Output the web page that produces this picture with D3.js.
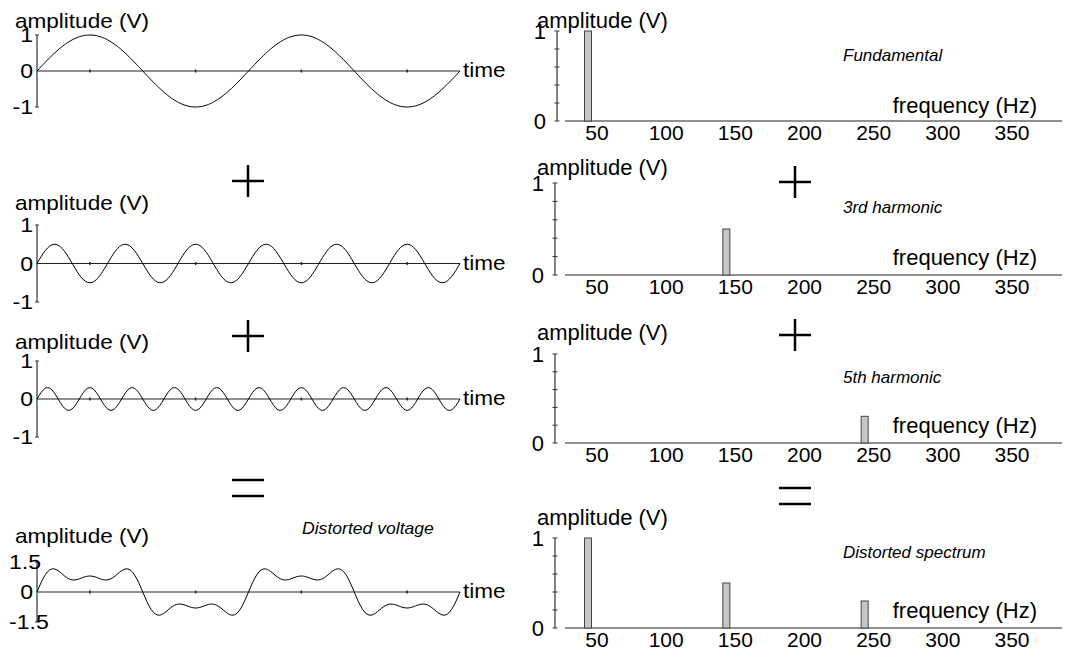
<!DOCTYPE html>
<html>
<head>
<meta charset="utf-8">
<script src="https://cdn.jsdelivr.net/npm/d3@7"></script>
<style>
  body { margin: 0; background: #fff; }
  text { font-family: "Liberation Sans", Arial, sans-serif; fill: #000; }
</style>
</head>
<body>
<div id="chart"></div>
<script>
// harmonic content (Hz, volts)
const frequencies = [50, 150, 250];
const amplitudes = [1, 0.5, 0.3];
const spectrumTitles = ["Fundamental", "3rd harmonic", "5th harmonic", "Distorted spectrum"];
const waveTitles = ["", "", "", "Distorted voltage"];
const freqTicks = [50, 100, 150, 200, 250, 300, 350];
const ampTicks = [0, 0.2, 0.4, 0.6, 0.8, 1];
const timeTicks = [5, 15, 25, 35]; // ms
const waveLimits = [1, 1, 1, 1.5];

(function () {
  const width = 1068;
  const height = 651;

  const svg = d3.select("#chart")
    .append("svg")
    .attr("width", width)
    .attr("height", height);

  // where each row sits on the page
  const wavePanels = [
    { top: 35, bottom: 107, label: 28 },
    { top: 225, bottom: 302, label: 210 },
    { top: 361, bottom: 437, label: 349 },
    { top: 562, bottom: 622, label: 543 }
  ];
  const specPanels = [
    { axisX: 557, top: 31, zero: 121, label: 28, title: 61, freq: 113 },
    { axisX: 555, top: 183, zero: 275, label: 175, title: 213, freq: 265 },
    { axisX: 555, top: 354, zero: 443, label: 340, title: 383, freq: 433 },
    { axisX: 555, top: 538, zero: 628, label: 525, title: 558, freq: 618 }
  ];

  // which harmonics go into each row (last row = all of them)
  const rows = [[0], [1], [2], [0, 1, 2]];

  // left text is a bit wider than plain Arial
  function leftText(g, x, y, str, size, anchor) {
    return g.append("text")
      .attr("transform", "translate(" + x + "," + y + ") scale(1.1,1)")
      .attr("font-size", size + "px")
      .attr("text-anchor", anchor || "start")
      .text(str);
  }

  // ---------- waveforms ----------
  const xTime = d3.scaleLinear().domain([0, 40]).range([37, 460]);
  const samples = d3.range(0, 40.0001, 0.2);

  function voltage(ms, idx) {
    return idx.reduce((s, k) => s + amplitudes[k] * Math.sin(2 * Math.PI * frequencies[k] * ms / 1000), 0);
  }

  wavePanels.forEach((p, i) => {
    const lim = waveLimits[i];
    const y = d3.scaleLinear().domain([-lim, lim]).range([p.bottom, p.top]);
    const g = svg.append("g");

    g.append("line")
      .attr("x1", xTime(0)).attr("x2", xTime(0))
      .attr("y1", y(lim)).attr("y2", y(-lim))
      .attr("stroke", "#333").attr("stroke-width", 1.2);

    [lim, -lim].forEach(v => {
      g.append("line")
        .attr("x1", xTime(0) - 2).attr("x2", xTime(0) + 2)
        .attr("y1", y(v)).attr("y2", y(v))
        .attr("stroke", "#333");
    });

    g.append("line")
      .attr("x1", xTime(0)).attr("x2", xTime(40))
      .attr("y1", y(0)).attr("y2", y(0))
      .attr("stroke", "#222").attr("stroke-width", 1.2);

    g.selectAll(".tt")
      .data(timeTicks)
      .enter().append("line")
      .attr("x1", d => xTime(d)).attr("x2", d => xTime(d))
      .attr("y1", y(0) - 1.5).attr("y2", y(0) + 1.5)
      .attr("stroke", "#222").attr("stroke-width", 1.5);

    const line = d3.line()
      .x(d => xTime(d))
      .y(d => y(voltage(d, rows[i])));

    g.append("path")
      .datum(samples)
      .attr("d", line)
      .attr("fill", "none")
      .attr("stroke", "#000")
      .attr("stroke-width", 1);

    [lim, 0, -lim].forEach(v => {
      const str = String(v);
      if (str.length > 2) {
        leftText(g, 9, y(v) + 7, str, 21, "start");
      } else {
        leftText(g, 33, y(v) + 7, str, 21, "end");
      }
    });

    leftText(g, 15, p.label, "amplitude (V)", 20.5);
    leftText(g, 463, y(0) + 6, "time", 20.5);

    if (waveTitles[i]) {
      g.append("text")
        .attr("transform", "translate(302," + (p.label - 9) + ") scale(1.1,1)")
        .attr("font-size", "16px")
        .attr("font-style", "italic")
        .text(waveTitles[i]);
    }
  });

  // ---------- spectra ----------
  const xFreq = d3.scaleLinear().domain([50, 350]).range([588, 1003]);

  specPanels.forEach((p, i) => {
    const y = d3.scaleLinear().domain([0, 1]).range([p.zero, p.top]);
    const g = svg.append("g");

    g.append("line")
      .attr("x1", p.axisX).attr("x2", p.axisX)
      .attr("y1", y(1)).attr("y2", y(0))
      .attr("stroke", "#333").attr("stroke-width", 1.2);

    g.selectAll(".at")
      .data(ampTicks)
      .enter().append("line")
      .attr("x1", p.axisX - 2.5).attr("x2", p.axisX + 2.5)
      .attr("y1", d => y(d)).attr("y2", d => y(d))
      .attr("stroke", "#333");

    g.append("line")
      .attr("x1", 565).attr("x2", 1062)
      .attr("y1", y(0)).attr("y2", y(0))
      .attr("stroke", "#222").attr("stroke-width", 1.2);

    const bars = rows[i].map(k => ({ f: frequencies[k], a: amplitudes[k] }));
    g.selectAll("rect")
      .data(bars)
      .enter().append("rect")
      .attr("x", d => xFreq(d.f) - 3.5)
      .attr("width", 7)
      .attr("y", d => y(d.a))
      .attr("height", d => y(0) - y(d.a))
      .attr("fill", "#c6c6c6")
      .attr("stroke", "#444")
      .attr("stroke-width", 1);

    g.selectAll(".fl")
      .data(freqTicks)
      .enter().append("text")
      .attr("x", d => xFreq(d) + 9)
      .attr("y", y(0) + 19)
      .attr("text-anchor", "middle")
      .attr("font-size", "21px")
      .text(d => d);

    [1, 0].forEach(v => {
      g.append("text")
        .attr("x", p.axisX - 11)
        .attr("y", y(v) + 8)
        .attr("text-anchor", "end")
        .attr("font-size", "22px")
        .text(v);
    });

    g.append("text")
      .attr("x", 537).attr("y", p.label)
      .attr("font-size", "22px")
      .text("amplitude (V)");

    g.append("text")
      .attr("x", 1037).attr("y", p.freq)
      .attr("text-anchor", "end")
      .attr("font-size", "22px")
      .text("frequency (Hz)");

    g.append("text")
      .attr("x", 843).attr("y", p.title)
      .attr("font-size", "17px")
      .attr("font-style", "italic")
      .text(spectrumTitles[i]);
  });

  // ---------- + + = between the rows ----------
  const operators = [
    { x: 248, y: 181, op: "+" }, { x: 795, y: 182, op: "+" },
    { x: 248, y: 336, op: "+" }, { x: 795, y: 335, op: "+" },
    { x: 248, y: 488, op: "=" }, { x: 795, y: 496, op: "=" }
  ];
  operators.forEach(o => {
    const g = svg.append("g")
      .attr("transform", "translate(" + o.x + "," + o.y + ")")
      .attr("stroke", "#000")
      .attr("stroke-width", 2.5);
    if (o.op === "+") {
      g.append("line").attr("x1", -16).attr("x2", 16).attr("y1", 0).attr("y2", 0);
      g.append("line").attr("x1", 0).attr("x2", 0).attr("y1", -16).attr("y2", 16);
    } else {
      g.append("line").attr("x1", -16).attr("x2", 16).attr("y1", -8).attr("y2", -8);
      g.append("line").attr("x1", -16).attr("x2", 16).attr("y1", 8).attr("y2", 8);
    }
  });
})();
</script>
</body>
</html>
